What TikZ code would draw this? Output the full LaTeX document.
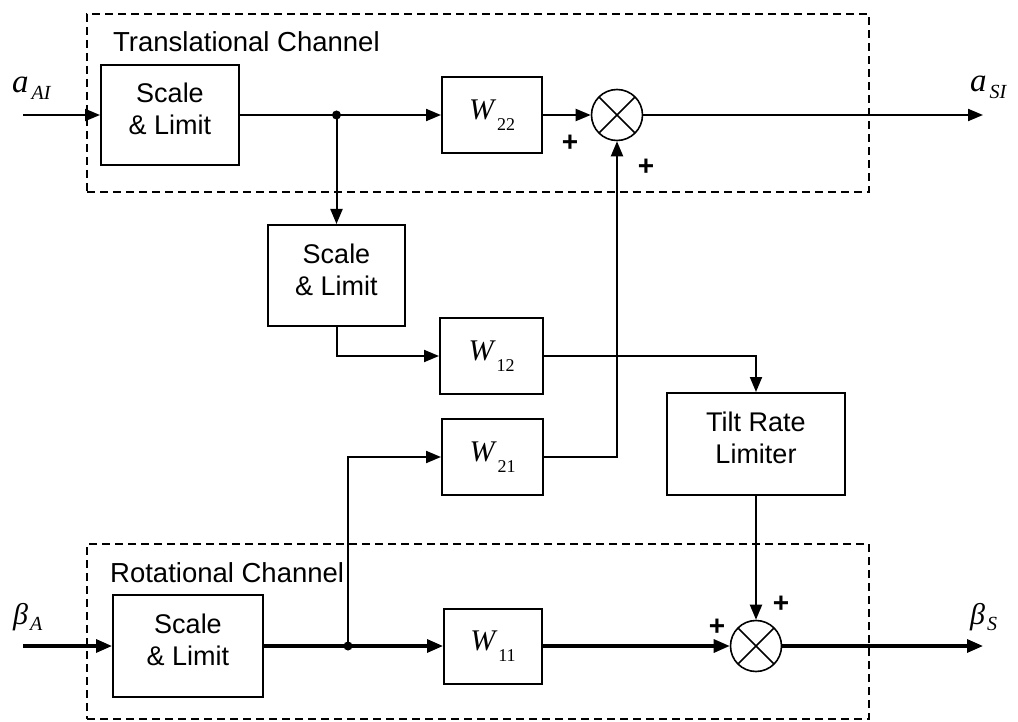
\documentclass[tikz,border=0pt]{standalone}
\usepackage{fontspec}
\setmainfont{Liberation Sans}
\newfontfamily\tms{Liberation Serif}
\usetikzlibrary{arrows.meta}

% gain block label W_{ij}
\newcommand\gain[1]{{\fontsize{30}{30}\selectfont\tms\itshape W}\kern3pt\raisebox{-11pt}{\fontsize{18}{18}\selectfont\tms #1}}
% signal name with italic subscript
\newcommand\signame[2]{{\fontsize{33}{33}\selectfont\tms\itshape #1}\kern3pt\raisebox{-7pt}{\fontsize{20}{20}\selectfont\tms\itshape #2}}
\newcommand\greekname[2]{{\fontsize{30}{30}\selectfont\tms\itshape #1}\kern2pt\raisebox{-6pt}{\fontsize{20}{20}\selectfont\tms\itshape #2}}
% extra depth so two-line block text sits a little high, as drawn
\newcommand\padlow{\rule[-12pt]{0pt}{12pt}}

\begin{document}
\begin{tikzpicture}[x=1pt,y=-1pt,
  blk/.style={draw, line width=2pt, inner sep=0pt, align=center,
    font=\fontsize{27}{32}\selectfont},
  wblk/.style={draw, line width=2pt, inner sep=0pt, minimum width=100pt, minimum height=76pt},
  sumj/.style={draw, circle, line width=1.6pt, minimum size=51pt, inner sep=0pt,
    path picture={\draw[line width=1.6pt]
      (path picture bounding box.north west) -- (path picture bounding box.south east)
      (path picture bounding box.north east) -- (path picture bounding box.south west);}},
  chan/.style={draw, dash pattern=on 8pt off 5pt, line width=1.6pt, inner sep=0pt},
  chanlbl/.style={anchor=base west, inner sep=0pt, font=\fontsize{27.5}{30}\selectfont},
  wire/.style={line width=2pt},
  sig/.style={wire, -{Triangle[length=15pt,width=12pt]}},
  thick wire/.style={line width=3.2pt},
  thick sig/.style={thick wire, -{Triangle[length=16pt,width=13pt]}},
  plus/.style={inner sep=0pt, font=\fontsize{28}{28}\selectfont\bfseries},
  io/.style={anchor=base west, inner sep=0pt},
]
\useasboundingbox (0,0) rectangle (1018,722);

% channel frames
\node[chan, minimum width=782pt, minimum height=178pt] (trans) at (478,103) {};
\node[chan, minimum width=782pt, minimum height=175pt] (rot) at (478,631.5) {};
\node[chanlbl] (translbl) at (113,52) {Translational Channel};
\node[chanlbl] (rotlbl) at (110,582) {Rotational Channel};

% blocks
\node[blk, minimum width=138pt, minimum height=100pt] (sl1) at (170,115) {Scale\\\& Limit\padlow};
\node[blk, minimum width=137pt, minimum height=101pt] (sl2) at (336.5,275.5) {Scale\\\& Limit\padlow};
\node[blk, minimum width=150pt, minimum height=102pt] (sl3) at (188,646) {Scale\\\& Limit\padlow};
\node[blk, minimum width=178pt, minimum height=102pt] (tilt) at (756,444) {Tilt Rate\\Limiter\padlow};
\node[wblk] (w22) at (492,115) {\gain{22}};
\node[wblk, minimum width=103pt] (w12) at (491.5,356) {\gain{12}};
\node[wblk, minimum width=101pt] (w21) at (492.5,457) {\gain{21}};
\node[wblk, minimum width=98pt, minimum height=75pt] (w11) at (493,646) {\gain{11}};

% summing junctions
\node[sumj] (sumT) at (617,115) {};
\node[sumj] (sumB) at (756,646) {};

% signal ends and branch points
\coordinate (inA) at (23,115);
\coordinate (outA) at (983,115);
\coordinate (inB) at (23,646);
\coordinate (outB) at (983,646);
\coordinate (jT) at (336.5,115);
\coordinate (jB) at (348,646);

% translational path
\draw[sig] (inA) -- (sl1.west);
\draw[wire] (sl1.east) -- (jT);
\draw[sig] (jT) -- (w22.west);
\draw[sig] (w22.east) -- (sumT.west);
\draw[sig] (sumT.east) -- (outA);

% cross couplings
\draw[sig] (jT) -- (sl2.north);
\draw[sig] (sl2.south) |- (w12.west);
\draw[sig] (w12.east) -| (tilt.north);
\draw[sig] (jB) |- (w21.west);
\draw[sig] (w21.east) -| (sumT.south);
\draw[sig] (tilt.south) -- (sumB.north);

% rotational path
\draw[thick sig] (inB) -- (sl3.west);
\draw[thick wire] (sl3.east) -- (jB);
\draw[thick sig] (jB) -- (w11.west);
\draw[thick sig] (w11.east) -- (sumB.west);
\draw[thick sig] (sumB.east) -- (outB);

\fill (jT) circle (4.5pt);
\fill (jB) circle (4.5pt);

% signs at the junctions
\node[plus] (p1) at (570,143) {+};
\node[plus] (p2) at (646,167) {+};
\node[plus] (p3) at (717,627) {+};
\node[plus] (p4) at (781,604) {+};

% signal names
\node[io] (laAI) at (12,93) {\signame{a}{AI}};
\node[io] (laSI) at (970,92) {\signame{a}{SI}};
\node[io] (lbA) at (13,624) {\greekname{β}{A}};
\node[io] (lbS) at (970,624) {\greekname{β}{S}};
\end{tikzpicture}
\end{document}
